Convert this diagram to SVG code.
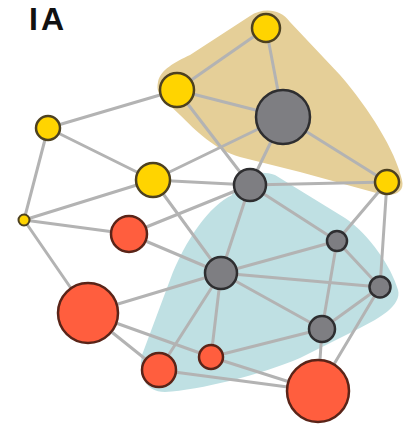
<svg xmlns="http://www.w3.org/2000/svg" width="411" height="426" viewBox="0 0 411 426">
<style>
.e{stroke:#b3b3b3;stroke-width:3;fill:none;stroke-linecap:round}
.y{fill:#ffd400;stroke:#4d4120;stroke-width:2.5}
.g{fill:#7e7e82;stroke:#2e2e30;stroke-width:2.5}
.r{fill:#ff5e3e;stroke:#5a2418;stroke-width:2.5}
</style>
<rect width="411" height="426" fill="#fff"/>
<text x="29" y="30" font-family="Liberation Sans, Arial, sans-serif" font-weight="bold" font-size="32" letter-spacing="3" fill="#111">IA</text>
<g id="regions">
<path d="M158,82 C160,70 175,62 190,55 L250,16 C262,8 280,8 290,22 L340,75 C370,110 395,150 402,180 C405,192 395,197 380,194 L300,172 L240,157 C215,150 195,130 180,115 L162,98 C157,92 157,87 158,82 Z" fill="#e5cf98"/>
<path d="M232,195 C236,178 255,168 275,175 L345,218 C370,235 392,268 398,290 C402,305 380,318 360,328 L300,358 C260,375 200,390 165,392 C145,392 138,375 142,355 L170,280 C185,240 210,205 232,195 Z" fill="#bfe0e3"/>
</g>
<g id="connectors">
<line class="e" x1="266" y1="28" x2="177" y2="90"/>
<line class="e" x1="266" y1="28" x2="283" y2="117"/>
<line class="e" x1="177" y1="90" x2="283" y2="117"/>
<line class="e" x1="177" y1="90" x2="48" y2="128"/>
<line class="e" x1="177" y1="90" x2="250" y2="185"/>
<line class="e" x1="48" y1="128" x2="153" y2="180"/>
<line class="e" x1="48" y1="128" x2="24" y2="220"/>
<line class="e" x1="153" y1="180" x2="283" y2="117"/>
<line class="e" x1="153" y1="180" x2="250" y2="185"/>
<line class="e" x1="153" y1="180" x2="24" y2="220"/>
<line class="e" x1="153" y1="180" x2="221" y2="273"/>
<line class="e" x1="283" y1="117" x2="250" y2="185"/>
<line class="e" x1="283" y1="117" x2="387" y2="182"/>
<line class="e" x1="250" y1="185" x2="387" y2="182"/>
<line class="e" x1="250" y1="185" x2="129" y2="234"/>
<line class="e" x1="250" y1="185" x2="337" y2="241"/>
<line class="e" x1="250" y1="185" x2="221" y2="273"/>
<line class="e" x1="387" y1="182" x2="337" y2="241"/>
<line class="e" x1="387" y1="182" x2="380" y2="287"/>
<line class="e" x1="24" y1="220" x2="129" y2="234"/>
<line class="e" x1="24" y1="220" x2="88" y2="313"/>
<line class="e" x1="129" y1="234" x2="221" y2="273"/>
<line class="e" x1="337" y1="241" x2="221" y2="273"/>
<line class="e" x1="337" y1="241" x2="322" y2="329"/>
<line class="e" x1="337" y1="241" x2="380" y2="287"/>
<line class="e" x1="221" y1="273" x2="380" y2="287"/>
<line class="e" x1="221" y1="273" x2="322" y2="329"/>
<line class="e" x1="221" y1="273" x2="88" y2="313"/>
<line class="e" x1="221" y1="273" x2="211" y2="357"/>
<line class="e" x1="221" y1="273" x2="159" y2="370"/>
<line class="e" x1="88" y1="313" x2="211" y2="357"/>
<line class="e" x1="88" y1="313" x2="159" y2="370"/>
<line class="e" x1="211" y1="357" x2="322" y2="329"/>
<line class="e" x1="211" y1="357" x2="318" y2="391"/>
<line class="e" x1="159" y1="370" x2="318" y2="391"/>
<line class="e" x1="322" y1="329" x2="380" y2="287"/>
<line class="e" x1="322" y1="329" x2="318" y2="391"/>
<line class="e" x1="380" y1="287" x2="318" y2="391"/>
</g>
<g id="Y1"><circle class="y" cx="266" cy="28" r="14"/></g>
<g id="Y2"><circle class="y" cx="177" cy="90" r="17"/></g>
<g id="G1"><circle class="g" cx="283" cy="117" r="27"/></g>
<g id="Y3"><circle class="y" cx="48" cy="128" r="12"/></g>
<g id="Y4"><circle class="y" cx="153" cy="180" r="17"/></g>
<g id="G2"><circle class="g" cx="250" cy="185" r="16"/></g>
<g id="Y5"><circle class="y" cx="387" cy="182" r="12"/></g>
<g id="Y6"><circle class="y" cx="24" cy="220" r="5.5" style="stroke-width:2"/></g>
<g id="R1"><circle class="r" cx="129" cy="234" r="18"/></g>
<g id="G3"><circle class="g" cx="337" cy="241" r="10"/></g>
<g id="G4"><circle class="g" cx="221" cy="273" r="16"/></g>
<g id="G5"><circle class="g" cx="380" cy="287" r="10.5"/></g>
<g id="R2"><circle class="r" cx="88" cy="313" r="30"/></g>
<g id="G6"><circle class="g" cx="322" cy="329" r="13"/></g>
<g id="R3"><circle class="r" cx="211" cy="357" r="12"/></g>
<g id="R4"><circle class="r" cx="159" cy="370" r="17"/></g>
<g id="R5"><circle class="r" cx="318" cy="391" r="31"/></g>
</svg>
